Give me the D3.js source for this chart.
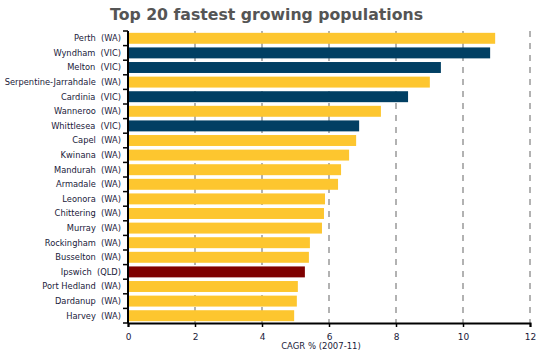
<!DOCTYPE html>
<html><head><meta charset="utf-8">
<script src="https://cdn.jsdelivr.net/npm/d3@7"></script>
<style>body{margin:0;background:#fff;} svg{display:block;font-family:"DejaVu Sans",Verdana,sans-serif;}</style>
</head><body><svg id="c" width="543" height="357"></svg>
<script>
const categories = ["Perth  (WA)","Wyndham  (VIC)","Melton  (VIC)","Serpentine-Jarrahdale  (WA)","Cardinia  (VIC)","Wanneroo  (WA)","Whittlesea  (VIC)","Capel  (WA)","Kwinana  (WA)","Mandurah  (WA)","Armadale  (WA)","Leonora  (WA)","Chittering  (WA)","Murray  (WA)","Rockingham  (WA)","Busselton  (WA)","Ipswich  (QLD)","Port Hedland  (WA)","Dardanup  (WA)","Harvey  (WA)"];
const states = ["WA","VIC","VIC","WA","VIC","WA","VIC","WA","WA","WA","WA","WA","WA","WA","WA","WA","QLD","WA","WA","WA"];
const values = [10.96,10.81,9.34,9.01,8.36,7.55,6.90,6.81,6.60,6.36,6.27,5.88,5.85,5.79,5.43,5.40,5.28,5.07,5.04,4.96];
const xTicks = [0,2,4,6,8,10,12];
const stateColors = {WA:"#fdc62f", VIC:"#013f63", QLD:"#7f0000"};

const svg = d3.select("#c");
const m = {l:128, r:13, t:31, b:34};
const W = 543, H = 357;
const x = d3.scaleLinear().domain([0,12]).range([m.l, W-m.r]);
const y = d3.scaleBand().domain(categories).range([m.t, H-m.b]).paddingInner(0.25).paddingOuter(0.125);

svg.append("text").attr("x",266.5).attr("y",20).attr("text-anchor","middle")
  .attr("font-size",16.5).attr("font-weight","bold").attr("fill","#555")
  .attr("textLength",313).attr("lengthAdjust","spacingAndGlyphs")
  .text("Top 20 fastest growing populations");

// gridlines
svg.append("g").selectAll("line").data(xTicks.filter(d=>d>0)).join("line")
  .attr("x1",d=>x(d)).attr("x2",d=>x(d)).attr("y1",m.t).attr("y2",H-m.b)
  .attr("stroke","#999").attr("stroke-width",1.5).attr("stroke-dasharray","6,6");

// bars
svg.append("g").selectAll("rect").data(categories).join("rect")
  .attr("x",x(0)).attr("y",d=>y(d)).attr("height",y.bandwidth())
  .attr("width",(d,i)=>x(values[i])-x(0))
  .attr("fill",(d,i)=>stateColors[states[i]]);

// y axis
const ya = svg.append("g").attr("transform",`translate(${x(0)},0)`);
ya.append("line").attr("x1",0).attr("x2",0).attr("y1",m.t).attr("y2",H-m.b).attr("stroke","#000").attr("stroke-width",2);
const bounds = d3.range(categories.length+1).map(i=>m.t + i*(H-m.b-m.t)/categories.length);
ya.selectAll(".tk").data(bounds).join("line").attr("class","tk")
  .attr("x1",-5).attr("x2",0).attr("y1",d=>d).attr("y2",d=>d).attr("stroke","#000").attr("stroke-width",1.5);
ya.selectAll("text").data(categories).join("text")
  .attr("x",-7).attr("y",d=>y(d)+y.bandwidth()/2).attr("dy","0.35em")
  .attr("text-anchor","end").attr("font-size",8.3).attr("fill","#1a1a3a")
  .attr("xml:space","preserve").style("white-space","pre").text(d=>d);

// x axis
const xa = svg.append("g").attr("transform",`translate(0,${H-m.b})`)
  .call(d3.axisBottom(x).tickValues(xTicks).tickSize(4).tickPadding(7).tickFormat(d3.format("d")));
xa.select(".domain").attr("stroke","#000").attr("stroke-width",2);
xa.selectAll(".tick line").attr("stroke","#000").attr("stroke-width",1.5);
xa.selectAll(".tick text").attr("font-size",9).attr("fill","#1a1a3a").attr("font-family","DejaVu Sans, Verdana, sans-serif");

svg.append("text").attr("x",321).attr("y",349).attr("text-anchor","middle")
  .attr("font-size",8.5).attr("fill","#1a1a3a").text("CAGR % (2007-11)");
</script></body></html>
